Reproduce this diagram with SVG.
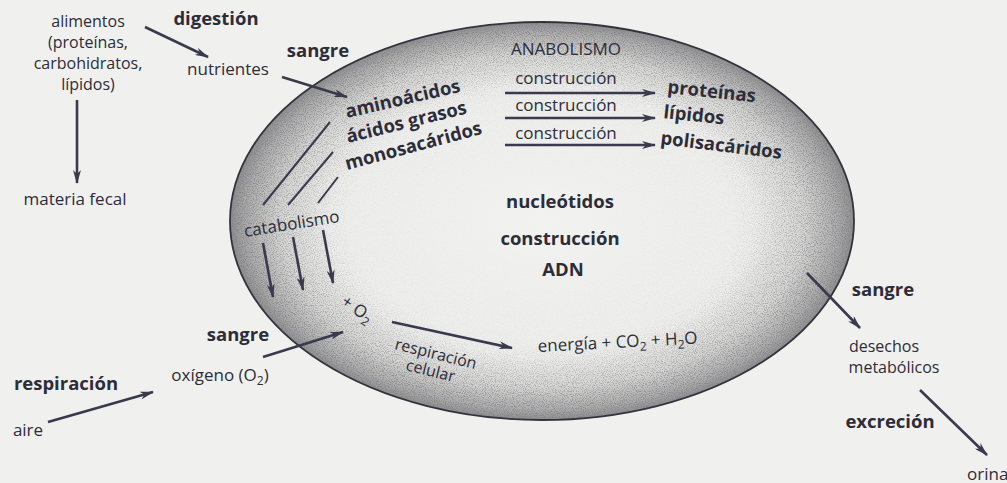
<svg xmlns="http://www.w3.org/2000/svg" width="1007" height="483" viewBox="0 0 1007 483">
<style>
text{font-family:"Open Sans","Noto Sans","DejaVu Sans",sans-serif;fill:#2d2d3a;font-size:17px}
.b{font-weight:700;font-size:18.5px}
.m{text-anchor:middle}
.r{font-size:16px}
.s{font-size:12px}
.c line{stroke:#3a3a4c;stroke-width:2.6;fill:none}
.c .h{marker-end:url(#ah)}
.c .t{stroke-width:2}
</style>
<defs>
<marker id="ah" viewBox="0 0 14 8" refX="13" refY="4" markerWidth="14" markerHeight="8" markerUnits="userSpaceOnUse" orient="auto">
<path d="M0,0 L14,4 L0,8 L4,4 z" fill="#3a3a4c"/>
</marker>
<radialGradient id="cellg" cx="0.5" cy="0.5" r="0.5">
<stop offset="0" stop-color="#f2f2f0"/>
<stop offset="0.68" stop-color="#ededeb"/>
<stop offset="0.84" stop-color="#d6d6d4"/>
<stop offset="0.95" stop-color="#ababaa"/>
<stop offset="1" stop-color="#8e8e8e"/>
</radialGradient>
<radialGradient id="maskg" cx="0.5" cy="0.5" r="0.5">
<stop offset="0" stop-color="#fff" stop-opacity="0"/>
<stop offset="0.62" stop-color="#fff" stop-opacity="0.06"/>
<stop offset="0.82" stop-color="#fff" stop-opacity="0.55"/>
<stop offset="1" stop-color="#fff" stop-opacity="1"/>
</radialGradient>
<mask id="ringmask"><ellipse cx="542" cy="221" rx="312" ry="199" fill="url(#maskg)"/></mask>
<filter id="noise" x="0" y="0" width="100%" height="100%">
<feTurbulence type="fractalNoise" baseFrequency="0.9" numOctaves="2" seed="7"/>
<feColorMatrix type="matrix" values="0 0 0 0 0.22  0 0 0 0 0.22  0 0 0 0 0.25  -3 0 0 0 1.7"/>
</filter>
</defs>
<rect width="1007" height="483" fill="#f0f0ee"/>

<g id="cell">
<ellipse cx="542" cy="221" rx="312" ry="199" fill="url(#cellg)"/>
<rect x="230" y="22" width="624" height="398" filter="url(#noise)" mask="url(#ringmask)"/>
<ellipse cx="542" cy="221" rx="312" ry="199" fill="none" stroke="#33333d" stroke-width="1.8"/>
</g>

<g class="c" id="connectors">
<line class="h" x1="145" y1="27" x2="208" y2="57"/>
<line class="h" x1="77" y1="100" x2="77" y2="183"/>
<line class="h" x1="282" y1="77" x2="347" y2="97"/>
<line class="h" x1="505" y1="93" x2="655" y2="93"/>
<line class="h" x1="505" y1="118" x2="655" y2="118"/>
<line class="h" x1="505" y1="145" x2="655" y2="145"/>
<line class="t" x1="263" y1="205" x2="330" y2="122"/>
<line class="t" x1="288" y1="205" x2="333" y2="152"/>
<line class="t" x1="318" y1="203" x2="338" y2="177"/>
<line class="h" x1="263" y1="243" x2="273" y2="297"/>
<line class="h" x1="293" y1="237" x2="303" y2="290"/>
<line class="h" x1="323" y1="230" x2="333" y2="283"/>
<line class="h" x1="263" y1="357" x2="343" y2="332"/>
<line class="h" x1="48" y1="422" x2="153" y2="392"/>
<line class="h" x1="392" y1="322" x2="512" y2="348"/>
<line class="h" x1="807" y1="273" x2="860" y2="328"/>
<line class="h" x1="920" y1="390" x2="987" y2="455"/>
</g>

<g id="alimentos">
<text class="m r" x="88" y="27">alimentos</text>
<text class="m r" x="88" y="48">(proteínas,</text>
<text class="m r" x="88" y="69">carbohidratos,</text>
<text class="m r" x="88" y="90">lípidos)</text>
</g>
<g id="materia-fecal"><text class="m" x="75" y="205">materia fecal</text></g>
<g id="digestion"><text class="b m" x="216" y="25">digestión</text></g>
<g id="nutrientes"><text class="m" x="228" y="75">nutrientes</text></g>
<g id="sangre-1"><text class="b m" x="318" y="57">sangre</text></g>

<g id="monomeros">
<text class="b" x="347" y="118" transform="rotate(-13 347 118)">aminoácidos</text>
<text class="b" x="348" y="143" transform="rotate(-14 348 143)">ácidos grasos</text>
<text class="b" x="347" y="170" transform="rotate(-15 347 170)">monosacáridos</text>
</g>

<g id="anabolismo">
<text class="m" x="566" y="55">ANABOLISMO</text>
<text class="m" x="566" y="84">construcción</text>
<text class="m" x="566" y="111">construcción</text>
<text class="m" x="566" y="139">construcción</text>
</g>

<g id="polimeros">
<text class="b" x="667" y="93" transform="rotate(6 667 93)">proteínas</text>
<text class="b" x="663" y="118" transform="rotate(6 663 118)">lípidos</text>
<text class="b" x="660" y="144" transform="rotate(7 660 144)">polisacáridos</text>
</g>

<g id="adn">
<text class="b m" x="560" y="208">nucleótidos</text>
<text class="b m" x="560" y="245">construcción</text>
<text class="b m" x="563" y="276">ADN</text>
</g>

<g id="catabolismo"><text x="245" y="237" font-size="17.5" transform="rotate(-9 245 237)">catabolismo</text></g>
<g id="o2"><text x="340" y="304" transform="rotate(35 340 304)">+ O<tspan class="s" dy="4">2</tspan></text></g>
<g id="sangre-2"><text class="b m" x="238" y="341">sangre</text></g>
<g id="oxigeno"><text class="m" x="220" y="381">oxígeno (O<tspan class="s" dy="4">2</tspan><tspan dy="-4">)</tspan></text></g>
<g id="respiracion"><text class="b m" x="66" y="390">respiración</text></g>
<g id="aire"><text class="m" x="28" y="436">aire</text></g>
<g id="resp-celular">
<text class="r" x="394" y="349" transform="rotate(14 394 349)">respiración</text>
<text class="r" x="405" y="370" transform="rotate(14 405 370)">celular</text>
</g>
<g id="energia"><text x="538" y="352" transform="rotate(-3 538 352)">energía + CO<tspan class="s" dy="4">2</tspan><tspan dy="-4"> + H</tspan><tspan class="s" dy="4">2</tspan><tspan dy="-4">O</tspan></text></g>
<g id="sangre-3"><text class="b m" x="883" y="296">sangre</text></g>
<g id="desechos">
<text class="m r" x="884" y="352">desechos</text>
<text class="m r" x="894" y="373">metabólicos</text>
</g>
<g id="excrecion"><text class="b m" x="890" y="428">excreción</text></g>
<g id="orina"><text x="967" y="480">orina</text></g>
</svg>
